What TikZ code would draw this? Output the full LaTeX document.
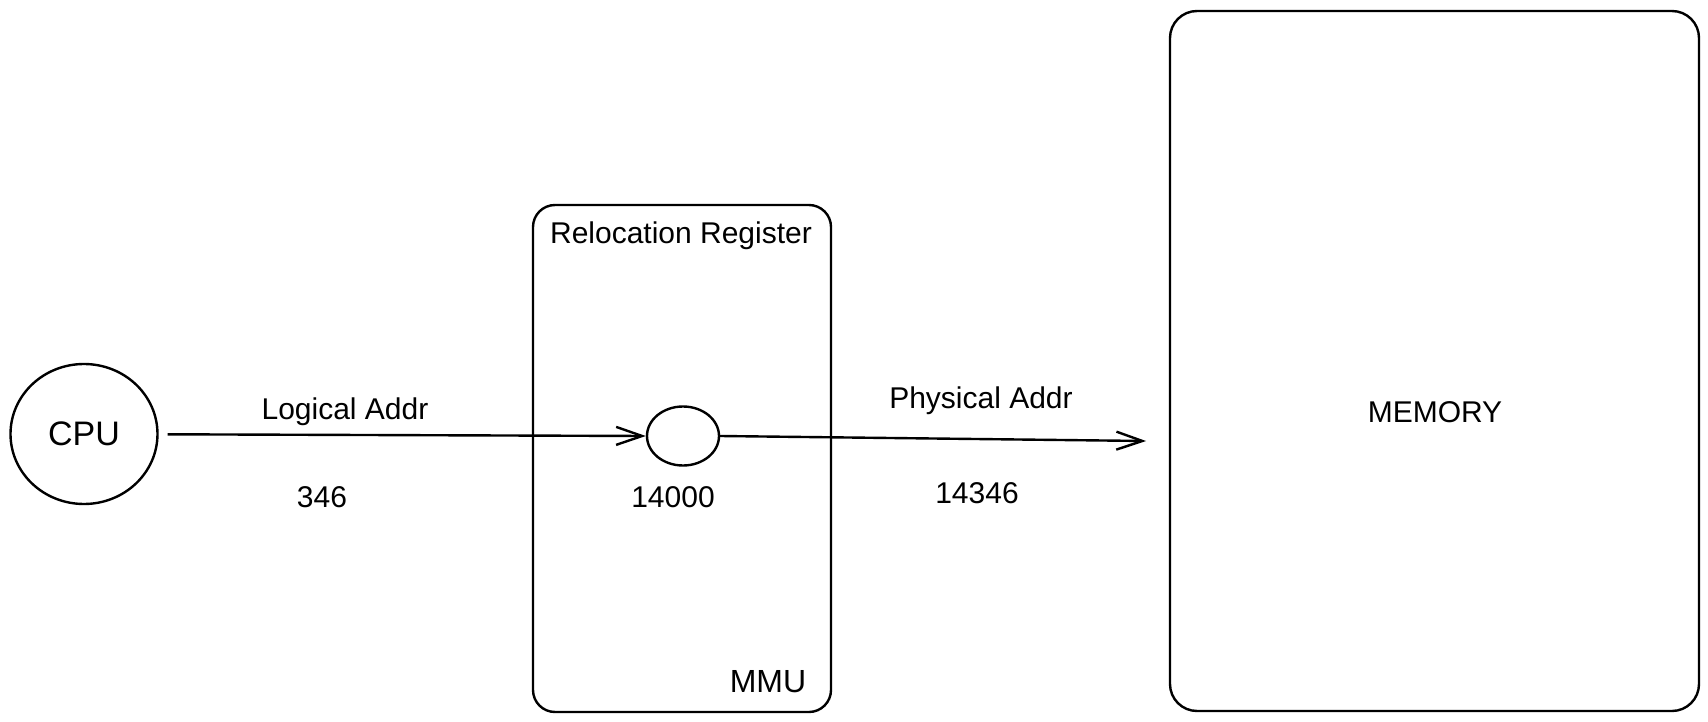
\documentclass[tikz,border=0pt]{standalone}
\usepackage{fontspec}
\setmainfont{Liberation Sans}
\usetikzlibrary{arrows.meta,shapes.geometric}
\begin{document}
\begin{tikzpicture}[x=1pt,y=-1pt,
  line width=2.4pt,
  box/.style={draw,rounded corners=#1,inner sep=0pt},
  lbl/.style={inner sep=0pt,font=\fontsize{30}{32}\selectfont},
  conn/.style={-{Straight Barb[length=26pt,width=18pt,line width=2.4pt]}}]
\useasboundingbox (0,0) rectangle (1708,722);
% CPU
\node[draw,ellipse,minimum width=147pt,minimum height=140pt,inner sep=0pt,font=\fontsize{34}{36}\selectfont] (cpu) at (84,434) {CPU};
% MMU box
\node[box=22pt,minimum width=298pt,minimum height=507pt] (mmu) at (682,458.5) {};
\node[lbl] (reloc) at (681,236) {Relocation Register};
\node[inner sep=0pt,font=\fontsize{32}{34}\selectfont] (mmulbl) at (768,682) {MMU};
% adder ellipse
\node[draw,ellipse,minimum width=72pt,minimum height=59pt,inner sep=0pt] (reg) at (683,436) {};
\node[lbl] (n14000) at (673,497) {14000};
% memory
\node[box=27pt,minimum width=529pt,minimum height=700pt] (mem) at (1434.5,361) {};
\node[inner sep=0pt,font=\fontsize{30}{32}\selectfont] (memlbl) at (1435,412) {MEMORY};
% connectors
\coordinate (memin) at (1146,441);
\draw[conn,shorten <=9pt] (cpu) -- (reg.west);
\draw[conn] (reg.east) -- (memin);
% labels
\node[lbl] (logical) at (345,412) {Logical Addr};
\node[lbl] (n346) at (322,497) {346};
\node[lbl] (physical) at (981,401) {Physical Addr};
\node[lbl] (n14346) at (977,493) {14346};
\end{tikzpicture}
\end{document}
